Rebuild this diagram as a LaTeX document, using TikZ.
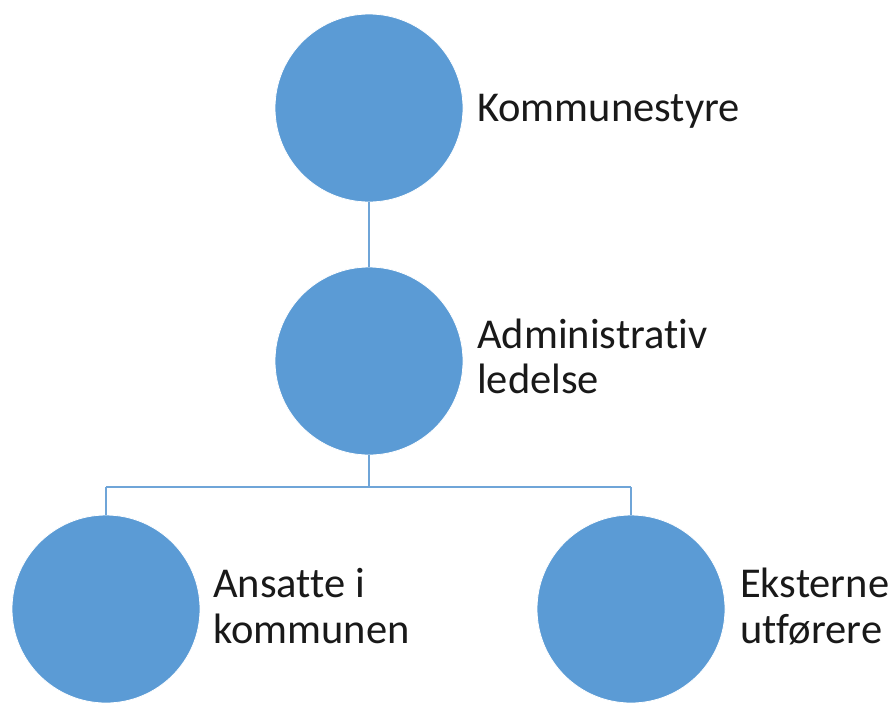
\documentclass[tikz,border=0pt]{standalone}
\usepackage{fontspec}
\setmainfont[Ligatures={NoCommon,NoRequired,NoContextual,NoRare,NoDiscretionary},Contextuals=NoAlternate]{Carlito}
\definecolor{cblue}{HTML}{5B9BD5}
\definecolor{lblue}{HTML}{6FA5D8}
\begin{document}
\begin{tikzpicture}[x=1pt,y=-1pt,
  bub/.style={circle,fill=cblue,draw=white,line width=0.8pt,minimum size=188pt,inner sep=0pt},
  lbl/.style={anchor=base west,inner sep=0pt,font=\fontsize{42.5}{46}\selectfont,text=black!90},
  conn/.style={draw=lblue,line width=2.5pt}]
\useasboundingbox (0,0) rectangle (893,702);
\fill[white] (0,0) rectangle (893,702);
\node[bub] (top) at (369,108) {};
\node[bub] (mid) at (369,361) {};
\node[bub] (bl) at (106,609) {};
\node[bub] (br) at (631,609) {};
\coordinate (j) at (369,487);
\coordinate (jl) at (106,487);
\coordinate (jr) at (631,487);
\draw[conn] (top.south) -- (mid.north);
\draw[conn] (mid.south) -- (j);
\draw[conn] (jl) -- (jr);
\draw[conn] (jl) -- (bl.north);
\draw[conn] (jr) -- (br.north);
\node[lbl] (t1) at (477,121) {Kommunestyre};
\node[lbl] (t2) at (477,348) {Administrat\kern0pt iv};
\node[lbl] (t3) at (477,393) {ledelse};
\node[lbl] (t4) at (213,597) {Ansat\kern0pt te i};
\node[lbl] (t5) at (213,643) {kommunen};
\node[lbl] (t6) at (740,597) {Eksterne};
\node[lbl] (t7) at (740,643) {utførere};
\end{tikzpicture}
\end{document}
